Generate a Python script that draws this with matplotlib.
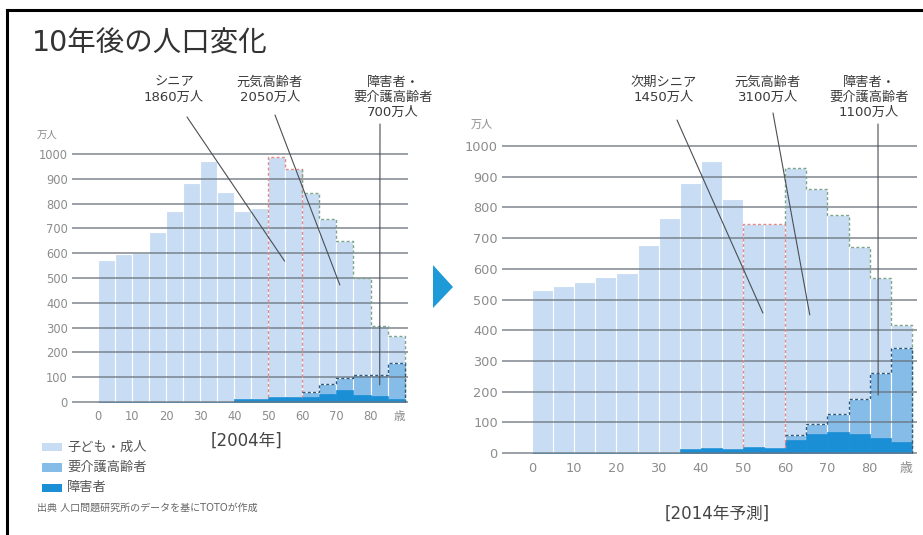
import numpy as np
import matplotlib.pyplot as plt
from matplotlib.patches import Polygon, Rectangle
from matplotlib.lines import Line2D

plt.rcParams['font.family'] = ['DejaVu Sans', 'Noto Sans CJK JP']

# 5-year age bands: 0-4, 5-9, ..., 80-84, 85+
age_start = list(range(0, 90, 5))

# 2004 (万人)
pop_2004 = [572, 598, 600, 685, 772, 885, 972, 848, 772, 782, 988, 938, 842, 738, 650, 502, 305, 265]
care_2004 = [0, 0, 0, 0, 0, 0, 0, 0, 0, 0, 0, 0, 18, 39, 47, 80, 85, 146]
disabled_2004 = [0, 0, 0, 0, 0, 0, 0, 0, 12, 12, 22, 20, 22, 34, 50, 28, 23, 12]

# 2014 projection (万人)
pop_2014 = [531, 545, 558, 572, 585, 677, 764, 880, 951, 826, 745, 745, 928, 861, 775, 672, 571, 417]
care_2014 = [0, 0, 0, 0, 0, 0, 0, 0, 0, 0, 0, 0, 14, 32, 60, 114, 213, 308]
disabled_2014 = [0, 0, 0, 0, 0, 0, 0, 12, 18, 13, 20, 18, 44, 62, 68, 62, 49, 35]

xtick_pos = [0, 10, 20, 30, 40, 50, 60, 70, 80, 88.5]
xtick_labels = ['0', '10', '20', '30', '40', '50', '60', '70', '80', '歳']

notes_2004 = [
    (['シニア', '1860万人'], (174, 82), (187, 117), (54.8, 568)),
    (['元気高齢者', '2050万人'], (270, 82), (275, 115), (71, 472)),
    (['障害者・', '要介護高齢者', '700万人'], (393, 82), (380, 124), (82.7, 69)),
]
notes_2014 = [
    (['次期シニア', '1450万人'], (664, 82), (677, 120), (54.7, 456)),
    (['元気高齢者', '3100万人'], (768, 82), (773, 113), (65.8, 450)),
    (['障害者・', '要介護高齢者', '1100万人'], (869, 82), (878, 124), (82, 189)),
]

LIGHT = '#c8ddf3'
MID = '#86bce8'
DARK = '#1b8fd5'
GRID = '#6a727b'
TICK = '#8c8c8c'
TEXT = '#3a3a3a'

W, H = 923, 535
fig = plt.figure(figsize=(W / 100, H / 100), dpi=100)


def fx(px):
    return px / W


def fy(py):
    return 1 - py / H


def step_outline(starts, heights, first, last):
    xs, ys = [], []
    for i in range(first, last + 1):
        xs += [starts[i], starts[i] + 5]
        ys += [heights[i], heights[i]]
    return xs, ys


def draw_panel(rect, xlim, pop, care, disabled, tickpad, fs):
    ax = fig.add_axes(rect)
    mid_top = np.array(care) + np.array(disabled)
    ax.bar(age_start, pop, width=5, align='edge', color=LIGHT,
           edgecolor='white', linewidth=0.8, zorder=1)
    ax.bar(age_start, mid_top, width=5, align='edge', color=MID,
           edgecolor='white', linewidth=0.8, zorder=2)
    ax.bar(age_start, disabled, width=5, align='edge', color=DARK,
           edgecolor=DARK, linewidth=0.5, zorder=2.5)
    for v in range(0, 1001, 100):
        ax.axhline(v, color=GRID, lw=1.1, alpha=0.85, zorder=3)

    dash = (0, (2.2, 1.6))
    # red outline around ages 50-59
    ax.plot([50, 50, 55, 55, 60, 60],
            [mid_top[10], pop[10], pop[10], pop[11], pop[11], mid_top[11]],
            color='#e58a8a', lw=1.0, ls=dash, zorder=4)
    # green outline over ages 60+
    xs, ys = step_outline(age_start, pop, 12, 17)
    ax.plot([60] + xs + [90], [pop[11]] + ys + [0],
            color='#7fa58e', lw=1.0, ls=dash, zorder=4)
    # navy outline over the care-needed band
    xs, ys = step_outline(age_start, mid_top, 12, 17)
    ax.plot(xs + [90], ys + [0], color='#2c5c86', lw=1.0, ls=dash, zorder=4)

    ax.set_xlim(*xlim)
    ax.set_ylim(-8, 1010)
    ax.set_yticks(range(0, 1001, 100))
    ax.set_xticks(xtick_pos)
    ax.set_xticklabels(xtick_labels)
    ax.tick_params(length=0, labelcolor=TICK, labelsize=fs)
    ax.tick_params(axis='x', pad=tickpad)
    ax.tick_params(axis='y', pad=3)
    for s in ax.spines.values():
        s.set_visible(False)
    ax.set_facecolor('none')
    return ax


ax1 = draw_panel([fx(72), fy(404), fx(408) - fx(72), fy(151.5) - fy(404)],
                 (-7.6, 91.0), pop_2004, care_2004, disabled_2004, 4.0, 8.3)
ax2 = draw_panel([fx(502), fy(455.5), fx(917) - fx(502), fy(142.9) - fy(455.5)],
                 (-7.1, 91.2), pop_2014, care_2014, disabled_2014, 5.0, 9.3)


def add_notes(ax, notes):
    for lines, (tx, ty), (lx, ly), xy in notes:
        for k, s in enumerate(lines):
            fig.text(fx(tx), fy(ty + 15 * k), s, ha='center', va='center',
                     fontsize=9.5, color=TEXT)
        ax.annotate('', xy=xy, xycoords='data',
                    xytext=(fx(lx), fy(ly)), textcoords='figure fraction',
                    arrowprops=dict(arrowstyle='-', color='#4a4f55', lw=0.8,
                                    shrinkA=0, shrinkB=0), zorder=5)


add_notes(ax1, notes_2004)
add_notes(ax2, notes_2014)

# title and units
fig.text(fx(32), fy(44), '10年後の人口変化', fontsize=20.5, color='#333333',
         ha='left', va='center')
fig.text(fx(47), fy(135), '万人', fontsize=7.5, color=TICK, ha='center', va='center')
fig.text(fx(482), fy(125), '万人', fontsize=8, color=TICK, ha='center', va='center')

# year captions
fig.text(fx(247), fy(441), '[2004年]', fontsize=12, color='#444444',
         ha='center', va='center')
fig.text(fx(717), fy(514), '[2014年予測]', fontsize=12, color='#444444',
         ha='center', va='center')

# arrow between the two panels
fig.patches.append(Polygon([(fx(433), fy(265)), (fx(433), fy(308)), (fx(453), fy(287))],
                           closed=True, transform=fig.transFigure,
                           facecolor='#1f9ad8', edgecolor='none'))

# legend
legend_items = [('子ども・成人', LIGHT), ('要介護高齢者', MID), ('障害者', DARK)]
for k, (label, col) in enumerate(legend_items):
    y = 447 + 20.5 * k
    fig.patches.append(Rectangle((fx(42), fy(y + 4)), fx(62) - fx(42), fy(y - 4) - fy(y + 4),
                                 transform=fig.transFigure, facecolor=col,
                                 edgecolor='none'))
    fig.text(fx(67), fy(y), label, fontsize=9.5, color='#555555',
             ha='left', va='center')

fig.text(fx(37), fy(508), '出典 人口問題研究所のデータを基にTOTOが作成',
         fontsize=7.2, color='#666666', ha='left', va='center')

# frame lines along the top and left edges
fig.lines.append(Line2D([fx(7), fx(7)], [fy(10), 0], transform=fig.transFigure,
                        color='black', lw=2.2))
fig.lines.append(Line2D([fx(7), 1], [fy(10), fy(10)], transform=fig.transFigure,
                        color='black', lw=2.2))

fig.savefig('out.png', dpi=100, facecolor='white')
